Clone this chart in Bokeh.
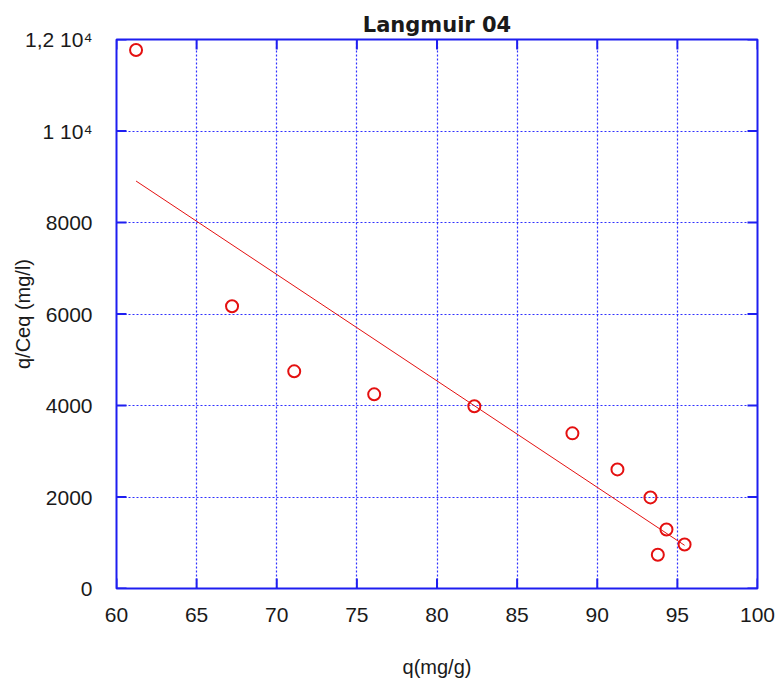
import numpy as np
from bokeh.plotting import figure
from bokeh.models import Range1d, LinearAxis, FixedTicker, Title
from bokeh.embed import file_html
from bokeh.resources import INLINE

# Langmuir isotherm linearisation, run 04
q_mg_g = [61.22, 67.21, 71.09, 76.08, 82.33, 88.45, 91.26, 93.32, 94.32, 93.78, 95.45]
q_over_ceq = [11770, 6169, 4747, 4244, 3982, 3391, 2603, 1991, 1291, 737, 963]

x_ticks = [60, 65, 70, 75, 80, 85, 90, 95, 100]
y_ticks = [0, 2000, 4000, 6000, 8000, 10000, 12000]
y_tick_labels = {10000: "1 10\u2074", 12000: "1,2 10\u2074"}

X_MIN, X_MAX = 60, 100
Y_MIN, Y_MAX = 0, 12000

BLUE = "#1e1ef0"
RED = "#e41010"
TXT = "#1a1a1a"
FONT = "Liberation Sans"

p = figure(width=779, height=681, output_backend="svg", toolbar_location=None,
           x_range=Range1d(X_MIN, X_MAX), y_range=Range1d(Y_MIN, Y_MAX),
           x_axis_location=None, y_axis_location=None,
           min_border_left=116, min_border_right=22,
           min_border_top=39, min_border_bottom=93)
p.background_fill_color = "white"
p.border_fill_color = "white"
p.outline_line_color = BLUE
p.outline_line_width = 2
p.outline_line_alpha = 1.0

xt = FixedTicker(ticks=x_ticks)
yt = FixedTicker(ticks=y_ticks)


def style_axis(ax):
    ax.axis_line_color = None
    ax.major_tick_line_color = None
    ax.minor_tick_line_color = None
    ax.major_label_text_font = FONT
    ax.major_label_text_font_size = "21px"
    ax.major_label_text_color = TXT
    ax.axis_label_text_font = FONT
    ax.axis_label_text_font_size = "20px"
    ax.axis_label_text_font_style = "normal"
    ax.axis_label_text_color = TXT


xb = LinearAxis(ticker=xt, axis_label="q(mg/g)")
style_axis(xb)
xb.major_label_standoff = 13
xb.axis_label_standoff = 31
p.add_layout(xb, "below")

yl = LinearAxis(ticker=yt, axis_label="q/Ceq (mg/l)", major_label_overrides=y_tick_labels)
style_axis(yl)
yl.major_label_standoff = 18
yl.axis_label_standoff = -12
p.add_layout(yl, "left")

p.xgrid.ticker = xt
p.ygrid.ticker = yt
for g in (p.xgrid, p.ygrid):
    g.grid_line_color = "#3030ff"
    g.grid_line_dash = "2 2"
    g.grid_line_width = 1.2

# inward tick marks on all four sides of the frame
TICK = 10
tick_style = dict(length=TICK, length_units="screen", line_color=BLUE, line_width=2)
p.ray(x=x_ticks, y=[Y_MIN] * len(x_ticks), angle=np.pi / 2, **tick_style)
p.ray(x=x_ticks, y=[Y_MAX] * len(x_ticks), angle=-np.pi / 2, **tick_style)
p.ray(x=[X_MIN] * len(y_ticks), y=y_ticks, angle=0, **tick_style)
p.ray(x=[X_MAX] * len(y_ticks), y=y_ticks, angle=np.pi, **tick_style)

p.add_layout(Title(text="Langmuir 04", align="center", text_font="DejaVu Sans",
                   text_font_size="21px", text_font_style="bold", text_color=TXT,
                   standoff=6), "above")

# least-squares line through the points
x_arr = np.array(q_mg_g)
y_arr = np.array(q_over_ceq)
slope, intercept = np.polyfit(x_arr, y_arr, 1)
fit_x = [x_arr.min(), x_arr.max()]
fit_y = [slope * v + intercept for v in fit_x]
p.line(fit_x, fit_y, line_color=RED, line_width=1)

p.scatter(q_mg_g, q_over_ceq, marker="circle", size=12, fill_color=None,
          line_color=RED, line_width=2)

open("out.html", "w").write(file_html(p, INLINE))
